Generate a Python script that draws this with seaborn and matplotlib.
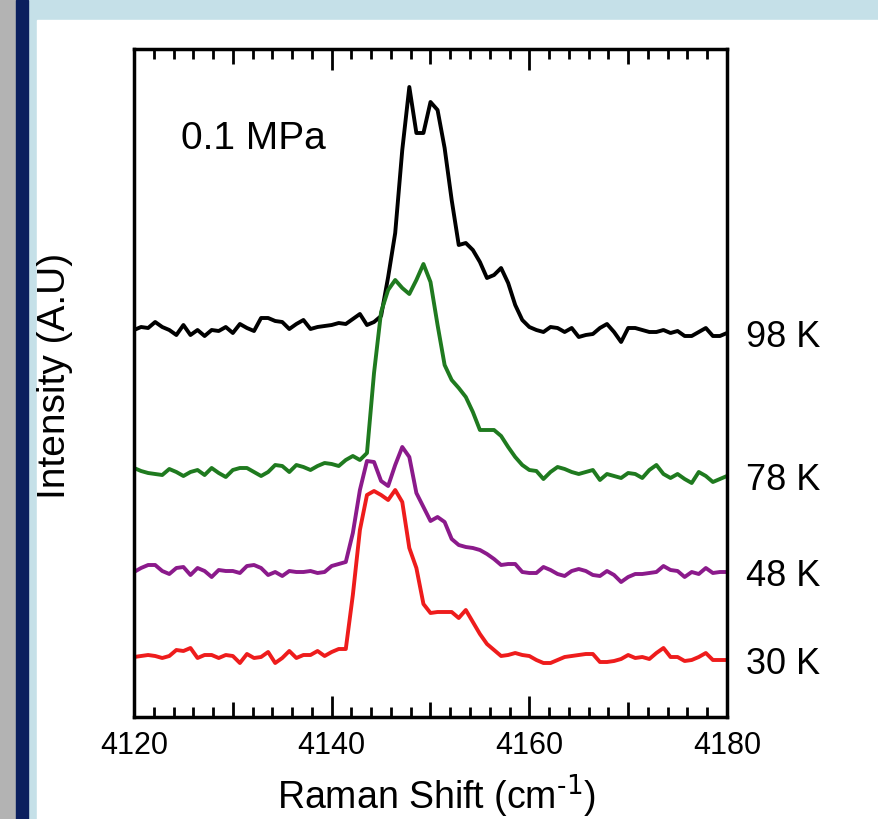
import numpy as np
import pandas as pd
import seaborn as sns
import matplotlib.pyplot as plt
from matplotlib.patches import Rectangle
from matplotlib.ticker import MultipleLocator, FuncFormatter

# Raman spectra of H2 vibron at 0.1 MPa, stacked by temperature
shift = np.linspace(4120, 4180, 85)

temps = ['98 K', '78 K', '48 K', '30 K']
colors = ['black', '#1f7a1f', '#8b1a8b', '#ee1c1c']

i_98k = [387, 390, 389, 395, 390, 387, 382, 392, 382, 387,
         381, 387, 386, 390, 384, 393, 389, 386, 399, 399,
         396, 395, 388, 393, 397, 388, 390, 391, 392, 394,
         393, 398, 403, 392, 395, 401, 440, 484, 567, 630,
         584, 584, 615, 607, 569, 517, 472, 474, 467, 455,
         439, 442, 449, 434, 412, 397, 390, 387, 385, 390,
         389, 385, 389, 380, 382, 383, 389, 393, 385, 375,
         389, 389, 387, 385, 385, 387, 384, 386, 381, 381,
         385, 389, 381, 381, 384]
i_78k = [249, 246, 244, 243, 242, 248, 245, 241, 245, 247,
         242, 249, 244, 240, 247, 249, 249, 245, 241, 245,
         252, 251, 245, 252, 250, 247, 251, 254, 253, 251,
         257, 261, 257, 264, 344, 405, 427, 437, 429, 423,
         437, 453, 435, 392, 352, 337, 329, 320, 305, 287,
         287, 287, 281, 270, 260, 252, 247, 246, 238, 245,
         250, 248, 245, 243, 245, 247, 237, 243, 241, 239,
         244, 243, 239, 247, 252, 243, 239, 243, 238, 234,
         245, 241, 235, 238, 241]
i_48k = [145, 149, 152, 152, 146, 143, 149, 150, 142, 149,
         146, 140, 147, 146, 146, 144, 151, 152, 149, 142,
         145, 141, 146, 145, 145, 146, 144, 145, 151, 153,
         155, 184, 227, 256, 255, 236, 231, 252, 270, 260,
         224, 210, 196, 200, 195, 178, 172, 170, 169, 167,
         163, 158, 152, 153, 153, 145, 144, 144, 150, 147,
         143, 141, 146, 148, 146, 142, 141, 146, 142, 135,
         140, 143, 143, 144, 145, 151, 147, 146, 140, 145,
         143, 149, 144, 145, 145]
i_30k = [60, 61, 62, 61, 59, 61, 67, 66, 69, 59,
         62, 62, 59, 62, 61, 54, 63, 59, 60, 65,
         54, 59, 66, 59, 62, 62, 66, 61, 65, 68,
         68, 122, 187, 222, 226, 222, 217, 227, 215, 169,
         149, 113, 104, 105, 105, 105, 99, 107, 95, 83,
         73, 67, 61, 62, 64, 62, 61, 57, 54, 54,
         57, 60, 61, 62, 63, 63, 55, 55, 56, 58,
         62, 59, 60, 58, 64, 69, 60, 60, 56, 57,
         60, 64, 57, 57, 57]

series = [i_98k, i_78k, i_48k, i_30k]
df = pd.concat([pd.DataFrame({'shift': shift, 'intensity': s, 'temp': t})
                for s, t in zip(series, temps)], ignore_index=True)

plt.rcParams['font.family'] = ['Liberation Sans', 'DejaVu Sans']
plt.rcParams['mathtext.default'] = 'regular'

fig = plt.figure(figsize=(8.79, 8.19), dpi=100)
# slide-style frame around the plot
fig.patches.append(Rectangle((0, 0), 1, 1, transform=fig.transFigure, color='#c5e0e8', zorder=-10))
fig.patches.append(Rectangle((37 / 879, 0), 1, 1 - 20 / 819, transform=fig.transFigure,
                             color='white', zorder=-9))
fig.patches.append(Rectangle((0, 0), 16 / 879, 1, transform=fig.transFigure, color='#b3b3b3', zorder=-8))
fig.patches.append(Rectangle((16 / 879, 0), 12 / 879, 1, transform=fig.transFigure, color='#0b1f5e', zorder=-8))

ax = fig.add_axes([134 / 879, 1 - 717 / 819, 593 / 879, 668 / 819])
ax.set_facecolor('none')

sns.lineplot(data=df, x='shift', y='intensity', hue='temp', hue_order=temps, palette=colors,
             estimator=None, sort=False, linewidth=2.8, legend=False, ax=ax)

ax.set_xlim(4120, 4180)
ax.set_ylim(0, 668)
ax.set_yticks([])
for sp in ax.spines.values():
    sp.set_linewidth(2.5)

ax.xaxis.set_major_locator(MultipleLocator(10))
ax.xaxis.set_minor_locator(MultipleLocator(2))
ax.xaxis.set_major_formatter(FuncFormatter(lambda v, p: f'{v:.0f}' if round(v) % 20 == 0 else ''))
ax.tick_params(axis='x', which='both', direction='in', top=True, bottom=True, width=2,
               labelsize=22, pad=10)
ax.tick_params(axis='x', which='minor', length=7)
locs = ax.get_xticks()
for loc, tick in zip(locs, ax.xaxis.get_major_ticks(len(locs))):
    size = 15 if round(loc) % 20 == 0 else 11
    tick.tick1line.set_markersize(size)
    tick.tick2line.set_markersize(size)

ax.set_xlabel(r'Raman Shift (cm$^{\text{-1}}$)', fontsize=27)
ax.xaxis.set_label_coords(0.51, -0.083)
ax.set_ylabel('Intensity (A.U)', fontsize=28)
ax.yaxis.set_label_coords(-0.103, 0.51)

ax.text(0.08, 0.865, '0.1 MPa', transform=ax.transAxes, fontsize=28, va='center', ha='left')

for s, t in zip(series, temps):
    ax.annotate(t, xy=(1, s[-1]), xycoords=('axes fraction', 'data'), xytext=(14, -3),
                textcoords='offset points', fontsize=26, va='center', ha='left',
                annotation_clip=False)

fig.savefig('out.png', dpi=100)
